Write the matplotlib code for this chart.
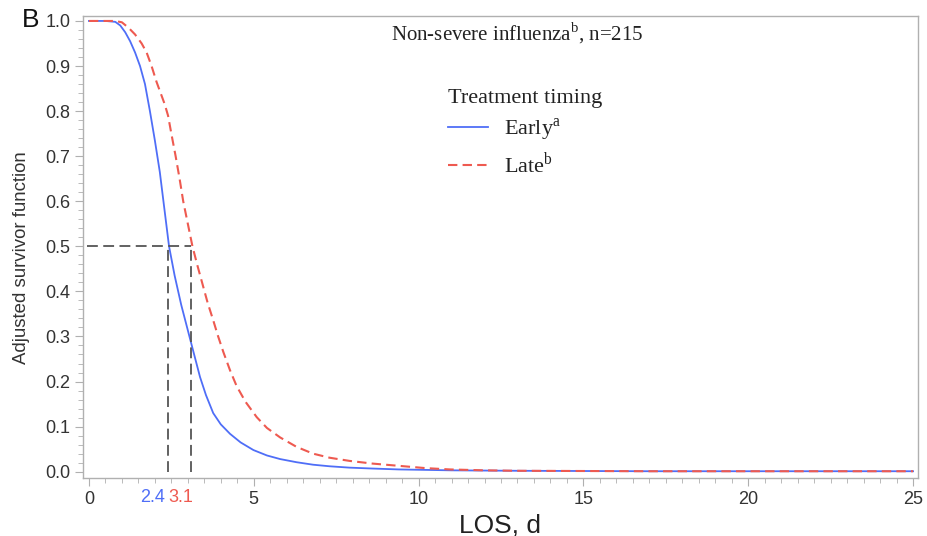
import matplotlib
matplotlib.use("Agg")
import matplotlib.pyplot as plt
import numpy as np

plt.rcParams['font.family'] = ['Liberation Sans', 'DejaVu Sans']
plt.rcParams['mathtext.fontset'] = 'custom'
plt.rcParams['mathtext.rm'] = 'Liberation Serif'

# adjusted survivor curves
early_t = [0, 0.5, 0.8, 0.95, 1.1, 1.25, 1.4, 1.55, 1.7, 1.85, 2.0, 2.15, 2.26, 2.43, 2.6,
           2.8, 2.96, 3.12, 3.37, 3.55, 3.77, 4.0, 4.28, 4.6, 4.99, 5.4, 5.8, 6.3, 6.8,
           7.3, 7.9, 8.6, 9.4, 10.2, 11.0, 12.0, 13.0, 15.0, 17.0, 20.0, 22.0, 25.0]
early_s = [1.0, 1.0, 0.998, 0.99, 0.975, 0.955, 0.93, 0.9, 0.86, 0.8, 0.735, 0.665, 0.6, 0.5, 0.435,
           0.37, 0.325, 0.28, 0.21, 0.17, 0.13, 0.105, 0.084, 0.065, 0.048, 0.036, 0.028, 0.021, 0.0155,
           0.012, 0.009, 0.007, 0.005, 0.004, 0.003, 0.0025, 0.002, 0.0015, 0.001, 0.001, 0.001, 0.001]

late_t = [0, 0.8, 1.0, 1.2, 1.4, 1.6, 1.75, 1.9, 2.05, 2.2, 2.3, 2.4, 2.5, 2.63, 2.75,
          2.86, 3.0, 3.14, 3.3, 3.45, 3.6, 3.77, 3.92, 4.08, 4.28, 4.48, 4.75, 5.09, 5.4,
          5.8, 6.3, 6.8, 7.3, 7.9, 8.6, 9.4, 10.2, 10.95, 12.0, 13.0, 15.0, 17.0, 20.0, 22.0, 25.0]
late_s = [1.0, 1.0, 0.997, 0.985, 0.97, 0.95, 0.93, 0.9, 0.865, 0.835, 0.815, 0.79, 0.75, 0.7, 0.65,
          0.6, 0.55, 0.5, 0.455, 0.415, 0.375, 0.336, 0.3, 0.265, 0.225, 0.19, 0.155, 0.121, 0.097,
          0.076, 0.055, 0.04, 0.031, 0.024, 0.018, 0.013, 0.008, 0.005, 0.003, 0.002, 0.0015, 0.001, 0.001, 0.001, 0.001]

median_early = 2.4
median_late = 3.1

x_ticks = [0, 5, 10, 15, 20, 25]
y_ticks = [0.0, 0.1, 0.2, 0.3, 0.4, 0.5, 0.6, 0.7, 0.8, 0.9, 1.0]

blue = '#4f6ef7'
red = '#ee5a50'
gris = '#b0b0b0'
serif = 'Liberation Serif'

fig = plt.figure(figsize=(9.28, 5.36), dpi=100)
ax = fig.add_axes([83 / 928, 1 - 478 / 536, 835 / 928, 462 / 536])

ax.plot(early_t, early_s, color=blue, lw=1.3, label='Early$^{\\mathrm{a}}$')
ax.plot(late_t, late_s, color=red, lw=1.5, dashes=(4.5, 2.5), label='Late$^{\\mathrm{b}}$')

# lineas de la mediana
ax.plot([-0.05, median_late], [0.5, 0.5], color='#555555', lw=1.3, dashes=(6, 3))
ax.plot([median_early, median_early], [0, 0.5], color='#555555', lw=1.3, dashes=(6, 3))
ax.plot([median_late, median_late], [0, 0.5], color='#555555', lw=1.3, dashes=(6, 3))

ax.set_xlim(-0.18, 25.15)
ax.set_ylim(-0.014, 1.011)
ax.set_xticks(x_ticks)
ax.set_xticks(np.arange(0, 25.01, 0.5), minor=True)
ax.set_yticks(y_ticks)
ax.set_yticklabels([f'{v:.1f}' for v in y_ticks])
ax.set_yticks(np.arange(0, 1.001, 0.02), minor=True)

for s in ax.spines.values():
    s.set_color(gris)
    s.set_linewidth(1.0)
ax.tick_params(which='major', length=6, color=gris, labelsize=13, labelcolor='#333333', pad=3)
ax.tick_params(which='minor', length=3.5, color=gris)

# etiquetas de color para las medianas
ax.text(median_early - 0.09, -0.024, '2.4', color=blue, fontsize=13, ha='right', va='top',
        transform=ax.get_xaxis_transform())
ax.text(median_early, -0.024, '3.1', color=red, fontsize=13, ha='left', va='top',
        transform=ax.get_xaxis_transform())

ax.set_xlabel('LOS, d', fontsize=19, labelpad=4, color='#222222')
ax.set_ylabel('Adjusted survivor function', fontsize=13.4, color='#333333')
ax.yaxis.set_label_coords(-0.063, 0.476)

ax.text(0.52, 0.962, 'Non-severe influenza$^{\\mathrm{b}}$, n=215', transform=ax.transAxes,
        ha='center', va='center', fontsize=15, family=serif, color='#222222')

leg = ax.legend(loc='upper left', bbox_to_anchor=(0.418, 0.875), frameon=False,
                title='Treatment timing', alignment='left', handlelength=1.8,
                labelspacing=0.37, handletextpad=0.75, borderpad=0.2,
                prop={'family': serif, 'size': 16},
                title_fontproperties={'family': serif, 'size': 16})
for t in leg.get_texts():
    t.set_color('#222222')
leg.get_title().set_color('#222222')

fig.text(22 / 928, 1 - 20 / 536, 'B', fontsize=19, ha='left', va='center', color='#111111')

fig.savefig('out.png', dpi=100)
